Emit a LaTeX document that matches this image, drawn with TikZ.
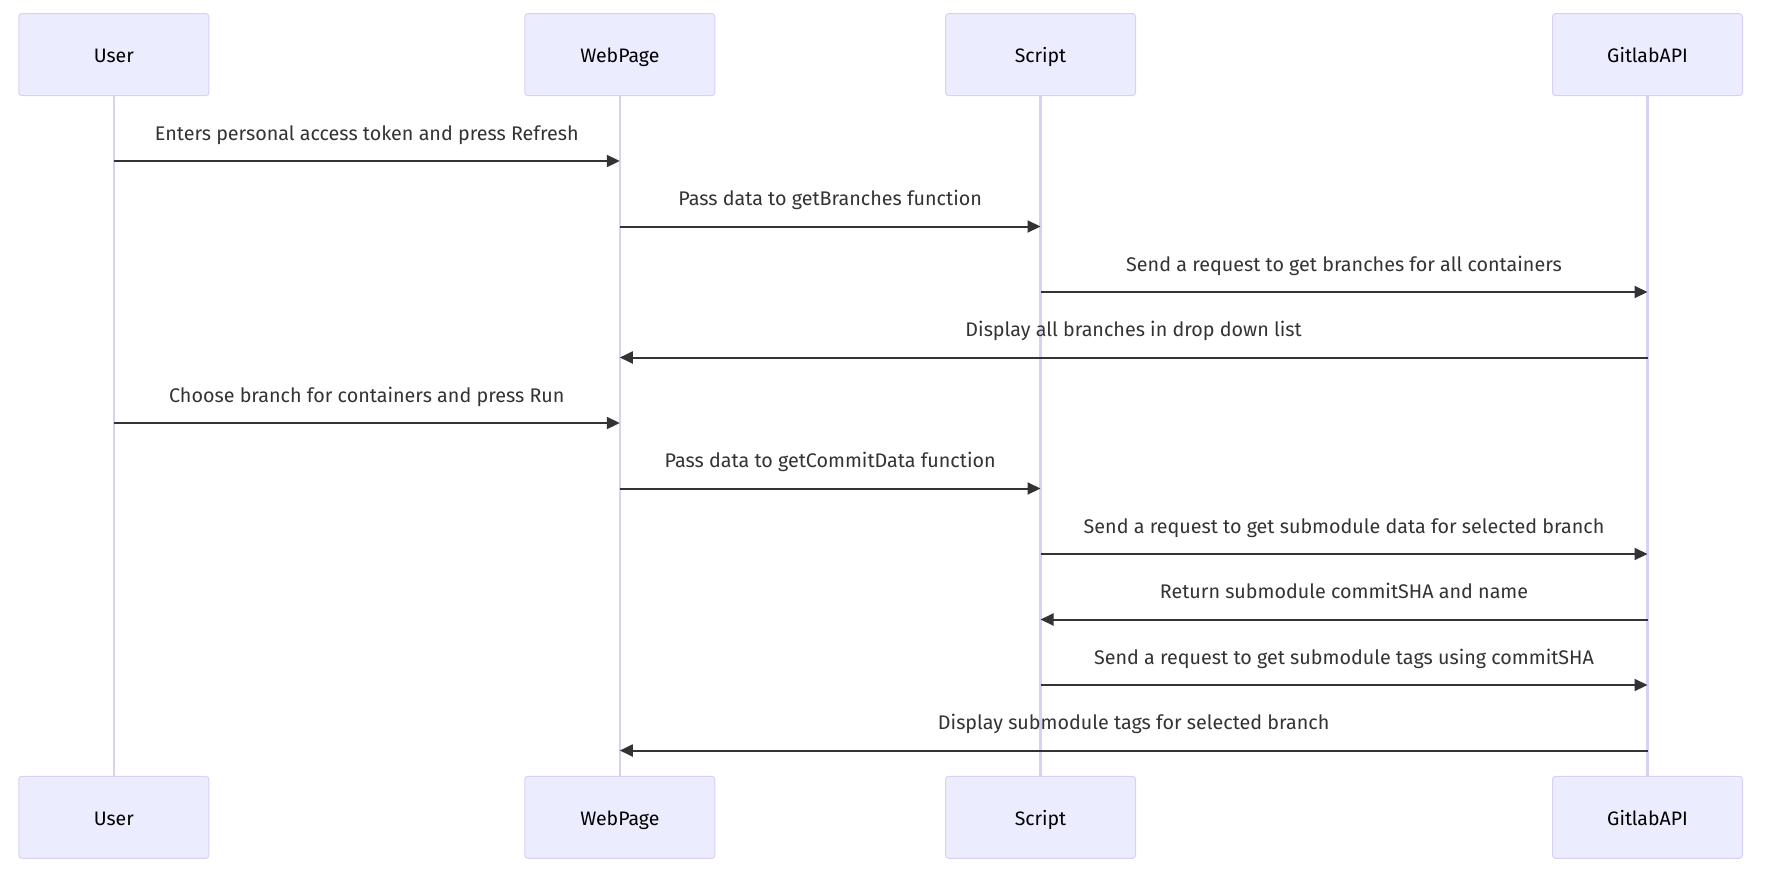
\documentclass[tikz,border=0pt]{standalone}
\usepackage{fontspec}
\setmainfont{Fira Sans}
\usetikzlibrary{arrows.meta}
\definecolor{actorfill}{HTML}{ECECFF}
\definecolor{actorline}{HTML}{D9D0F4}
\definecolor{msgcol}{HTML}{333333}
\tikzset{
    actor/.style={rectangle, draw=actorline, fill=actorfill, line width=0.75pt,
    	rounded corners=2.25pt, minimum width=142.5pt, minimum height=61.5pt,
    	text height=13pt, text depth=0.5pt,
    	font=\fontsize{14.6}{17}\selectfont, text=black}
}
\tikzset{
    lifeline/.style={draw=actorline, line width=1.8pt}
}
\tikzset{
    msg/.style={draw=msgcol, line width=1.5pt, -{Triangle[length=9.75pt,width=9pt]}},
    lbl/.style={midway, anchor=base, yshift=15.75pt, text=msgcol,
    	font=\fontsize{14.8}{17}\selectfont}
}

\begin{document}
\begin{tikzpicture}[x=0.75pt,y=-0.75pt]
  \useasboundingbox (0,0) rectangle (1767,879);
  \node [actor] (uT) at (113.8,54.6) {User};
  \node [actor] (wT) at (619.8,54.6) {WebPage};
  \node [actor] (sT) at (1040.5,54.6) {Script};
  \node [actor] (gT) at (1647.5,54.6) {GitlabAPI};
  \node [actor] (uB) at (113.8,817.3) {User};
  \node [actor] (wB) at (619.8,817.3) {WebPage};
  \node [actor] (sB) at (1040.5,817.3) {Script};
  \node [actor] (gB) at (1647.5,817.3) {GitlabAPI};
  \draw [lifeline] (uT) -- (uB); \draw [lifeline] (wT) -- (wB);
  \draw [lifeline] (sT) -- (sB); \draw [lifeline] (gT) -- (gB);
  \draw [msg] (uT |- 0,161) -- node[lbl] {Enters personal access token and press Refresh} (wT |- 0,161);
  \draw [msg] (wT |- 0,226.5) -- node[lbl] {Pass data to getBranches function} (sT |- 0,226.5);
  \draw [msg] (sT |- 0,292) -- node[lbl] {Send a request to get branches for all containers} (gT |- 0,292);
  \draw [msg] (gT |- 0,357.5) -- node[lbl] {Display all branches in drop down list} (wT |- 0,357.5);
  \draw [msg] (uT |- 0,423) -- node[lbl] {Choose branch for containers and press Run} (wT |- 0,423);
  \draw [msg] (wT |- 0,488.5) -- node[lbl] {Pass data to getCommitData function} (sT |- 0,488.5);
  \draw [msg] (sT |- 0,554) -- node[lbl] {Send a request to get submodule data for selected branch} (gT |- 0,554);
  \draw [msg] (gT |- 0,619.5) -- node[lbl] {Return submodule commitSHA and name} (sT |- 0,619.5);
  \draw [msg] (sT |- 0,685) -- node[lbl] {Send a request to get submodule tags using commitSHA} (gT |- 0,685);
  \draw [msg] (gT |- 0,750.5) -- node[lbl] {Display submodule tags for selected branch} (wT |- 0,750.5);
\end{tikzpicture}
\end{document}
